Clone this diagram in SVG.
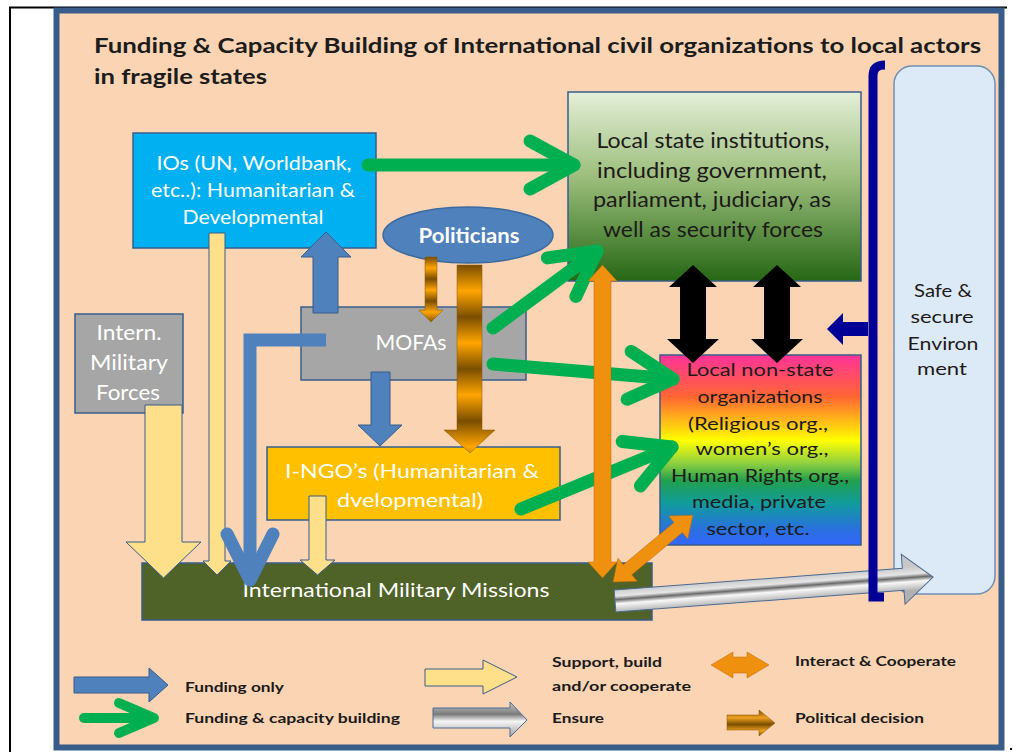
<svg xmlns="http://www.w3.org/2000/svg" width="1013" height="752" viewBox="0 0 1013 752">
  <style>
    .t { font-family: Lato, "Open Sans", "Liberation Sans", sans-serif; }
    .title { font-size: 21px; font-weight: 700; fill: #1c1c1c; }
    .wt { fill: #ffffff; text-anchor: middle; }
    .dk { fill: #1e1a1a; text-anchor: middle; }
    .leg { font-size: 14px; font-weight: 700; fill: #1a1a1a; }
    .box { stroke: #385D8A; stroke-width: 1.5; }
    .blue { fill: #4F81BD; stroke: #385D8A; stroke-width: 1; }
    .yel { fill: #FFE08A; stroke: #385D8A; stroke-width: 1; }
    .org { fill: #F0900F; stroke: #C06A00; stroke-width: 0.5; }
    .grn { fill: none; stroke: #00B050; stroke-width: 13; stroke-linecap: round; stroke-linejoin: round; }
  </style>
  <defs>
    <linearGradient id="gLocal" x1="0" y1="0" x2="0" y2="1">
      <stop offset="0" stop-color="#E5EFD8"/>
      <stop offset="0.45" stop-color="#9CBE7C"/>
      <stop offset="1" stop-color="#256714"/>
    </linearGradient>
    <linearGradient id="gRainbow" x1="0" y1="0" x2="0" y2="1">
      <stop offset="0" stop-color="#FF3399"/>
      <stop offset="0.22" stop-color="#FF6633"/>
      <stop offset="0.45" stop-color="#FFFF00"/>
      <stop offset="0.57" stop-color="#8FD040"/>
      <stop offset="0.66" stop-color="#22A04C"/>
      <stop offset="0.78" stop-color="#109C9C"/>
      <stop offset="0.92" stop-color="#2A70E0"/>
      <stop offset="1" stop-color="#3366FF"/>
    </linearGradient>
    <linearGradient id="gMetal" gradientUnits="userSpaceOnUse" x1="0" y1="-12" x2="0" y2="12">
      <stop offset="0" stop-color="#C8C8C8"/>
      <stop offset="0.3" stop-color="#E6E6E6"/>
      <stop offset="0.45" stop-color="#6A6A6A"/>
      <stop offset="0.62" stop-color="#F8F8F8"/>
      <stop offset="1" stop-color="#B0B0B0"/>
    </linearGradient>
    <linearGradient id="gMetalLeg" x1="0" y1="0" x2="0" y2="1">
      <stop offset="0" stop-color="#D0D0D0"/>
      <stop offset="0.35" stop-color="#7A7A7A"/>
      <stop offset="0.55" stop-color="#F5F5F5"/>
      <stop offset="1" stop-color="#A0A0A0"/>
    </linearGradient>
    <linearGradient id="gPolBig" gradientUnits="userSpaceOnUse" x1="0" y1="265" x2="0" y2="317" spreadMethod="repeat">
      <stop offset="0" stop-color="#7A4E00"/>
      <stop offset="0.5" stop-color="#FFA500"/>
      <stop offset="1" stop-color="#7A4E00"/>
    </linearGradient>
    <linearGradient id="gPolSmall" gradientUnits="userSpaceOnUse" x1="0" y1="257" x2="0" y2="279" spreadMethod="repeat">
      <stop offset="0" stop-color="#7A4E00"/>
      <stop offset="0.5" stop-color="#FFA500"/>
      <stop offset="1" stop-color="#7A4E00"/>
    </linearGradient>
    <linearGradient id="gPolLeg" x1="0" y1="0" x2="0" y2="1">
      <stop offset="0" stop-color="#7A4E00"/>
      <stop offset="0.3" stop-color="#F0A020"/>
      <stop offset="0.55" stop-color="#7A4E00"/>
      <stop offset="0.8" stop-color="#F0A020"/>
      <stop offset="1" stop-color="#7A4E00"/>
    </linearGradient>
    <marker id="chevGreen" markerUnits="userSpaceOnUse" orient="auto" refX="0" refY="0" markerWidth="10" markerHeight="10" style="overflow:visible">
      <path d="M-44,-24 L0,0 L-44,24" fill="none" stroke="#00B050" stroke-width="13" stroke-linecap="round" stroke-linejoin="round"/>
    </marker>
    <marker id="chevBlue" markerUnits="userSpaceOnUse" orient="auto" refX="0" refY="0" markerWidth="10" markerHeight="10" style="overflow:visible">
      <path d="M-46,-23 L0,0 L-46,23" fill="none" stroke="#4F81BD" stroke-width="13" stroke-linecap="round" stroke-linejoin="round"/>
    </marker>
  </defs>

  <!-- page -->
  <rect width="1013" height="752" fill="#ffffff"/>
  <g id="frame">
    <line x1="9" y1="7.5" x2="1007" y2="7.5" stroke="#000" stroke-width="2"/>
    <line x1="10" y1="7" x2="10" y2="752" stroke="#000" stroke-width="2"/>
    <rect x="1010" y="748" width="2" height="2" fill="#000"/>
    <rect x="56.5" y="10.5" width="945" height="737" fill="#FBD4B4" stroke="#385D8A" stroke-width="6"/>
  </g>

  <g id="title" class="t title">
    <text x="94" y="53" textLength="887" lengthAdjust="spacingAndGlyphs">Funding &amp; Capacity Building of International civil organizations to local actors</text>
    <text x="94" y="84" textLength="173" lengthAdjust="spacingAndGlyphs">in fragile states</text>
  </g>

  <!-- nodes -->
  <g id="safe-environment">
    <rect x="894" y="66" width="101" height="528" rx="18" fill="#DCE9F6" stroke="#6F8FB5" stroke-width="1.5"/>
    <g class="t dk" font-size="18">
      <text x="943" y="297" textLength="58" lengthAdjust="spacingAndGlyphs">Safe &amp;</text>
      <text x="942" y="323" textLength="63" lengthAdjust="spacingAndGlyphs">secure</text>
      <text x="943" y="350" textLength="71" lengthAdjust="spacingAndGlyphs">Environ</text>
      <text x="942" y="375" textLength="50" lengthAdjust="spacingAndGlyphs">ment</text>
    </g>
  </g>

  <g id="local-state">
    <rect x="568" y="92" width="293" height="189" fill="url(#gLocal)" class="box"/>
    <g class="t dk" font-size="21">
      <text x="713" y="148" textLength="233" lengthAdjust="spacingAndGlyphs">Local state institutions,</text>
      <text x="712" y="178" textLength="230" lengthAdjust="spacingAndGlyphs">including  government,</text>
      <text x="712" y="207" textLength="238" lengthAdjust="spacingAndGlyphs">parliament, judiciary, as</text>
      <text x="713" y="237" textLength="220" lengthAdjust="spacingAndGlyphs">well as security forces</text>
    </g>
  </g>

  <g id="local-non-state">
    <rect x="660" y="355" width="201" height="190" fill="url(#gRainbow)" class="box"/>
    <g class="t dk" font-size="17">
      <text x="760" y="376" textLength="147" lengthAdjust="spacingAndGlyphs">Local   non-state</text>
      <text x="760" y="403" textLength="125" lengthAdjust="spacingAndGlyphs">organizations</text>
      <text x="758" y="430" textLength="140" lengthAdjust="spacingAndGlyphs">(Religious org.,</text>
      <text x="762" y="455" textLength="133" lengthAdjust="spacingAndGlyphs">women’s org.,</text>
      <text x="760" y="482" textLength="178" lengthAdjust="spacingAndGlyphs">Human Rights org.,</text>
      <text x="759" y="508" textLength="134" lengthAdjust="spacingAndGlyphs">media, private</text>
      <text x="758" y="535" textLength="103" lengthAdjust="spacingAndGlyphs">sector, etc.</text>
    </g>
  </g>

  <g id="ios">
    <rect x="133" y="133" width="243" height="115" fill="#00B0F0" class="box"/>
    <g class="t wt" font-size="20">
      <text x="254" y="170" textLength="195" lengthAdjust="spacingAndGlyphs">IOs (UN, Worldbank,</text>
      <text x="253" y="197" textLength="204" lengthAdjust="spacingAndGlyphs">etc..): Humanitarian &amp;</text>
      <text x="253" y="224" textLength="141" lengthAdjust="spacingAndGlyphs">Developmental</text>
    </g>
  </g>

  <g id="intern-military-forces">
    <rect x="75" y="314" width="108" height="99" fill="#A6A6A6" class="box"/>
    <g class="t wt" font-size="21" fill="#F4F4F4">
      <text x="129" y="340" textLength="65" lengthAdjust="spacingAndGlyphs">Intern.</text>
      <text x="129" y="370" textLength="78" lengthAdjust="spacingAndGlyphs">Military</text>
      <text x="128" y="400" textLength="64" lengthAdjust="spacingAndGlyphs">Forces</text>
    </g>
  </g>

  <g id="mofas">
    <rect x="301" y="307" width="225" height="73" fill="#A6A6A6" class="box"/>
    <text x="411" y="350" class="t wt" font-size="21" textLength="71" lengthAdjust="spacingAndGlyphs">MOFAs</text>
  </g>

  <g id="politicians">
    <ellipse cx="468" cy="235" rx="85" ry="28" fill="#4F81BD" stroke="#3A6AA0" stroke-width="1.5"/>
    <text x="469" y="243" class="t wt" font-size="20" font-weight="700" textLength="101" lengthAdjust="spacingAndGlyphs">Politicians</text>
  </g>

  <g id="i-ngos">
    <rect x="267" y="447" width="293" height="73" fill="#FFC000" class="box"/>
    <g class="t wt" font-size="20">
      <text x="412" y="478" textLength="254" lengthAdjust="spacingAndGlyphs">I-NGO’s (Humanitarian &amp;</text>
      <text x="410" y="507" textLength="146" lengthAdjust="spacingAndGlyphs">dvelopmental)</text>
    </g>
  </g>

  <g id="intern-military-missions">
    <rect x="142" y="563" width="510" height="57" fill="#4F6228" class="box"/>
    <text x="396" y="597" class="t wt" font-size="20" fill="#F2F2E6" textLength="307" lengthAdjust="spacingAndGlyphs">International Military Missions</text>
  </g>

  <!-- connectors -->
  <g id="connectors">
    <!-- support / build -->
    <polygon class="yel" points="145,405 182,405 182,542 201,542 163.5,578 126,542 145,542"/>
    <polygon class="yel" points="209,233 225,233 225,561 231,561 217,575 203,561 209,561"/>
    <polygon class="yel" points="309,496 326,496 326,560 335,560 317.5,575 300,560 309,560"/>

    <!-- funding only -->
    <polygon class="blue" points="313,313 313,257 301,257 326,232 351,257 338,257 338,313"/>
    <polygon class="blue" points="371,372 390,372 390,425 402,425 380,446 358,425 371,425"/>
    <path d="M326,340 L250,340 L250,580" fill="none" stroke="#4F81BD" stroke-width="13" stroke-linejoin="miter" marker-end="url(#chevBlue)"/>

    <!-- political decision -->
    <polygon points="425,257 437,257 437,310 443,310 431,322 419,310 425,310" fill="url(#gPolSmall)" stroke="#8A5A00" stroke-width="0.5"/>
    <polygon points="457,265 482,265 482,430 495,430 470,453 444,430 457,430" fill="url(#gPolBig)" stroke="#8A5A00" stroke-width="0.5"/>

    <!-- funding & capacity building -->
    <path class="grn" d="M368,165 L574,165" marker-end="url(#chevGreen)"/>
    <path class="grn" d="M493,328 L597,251" marker-end="url(#chevGreen)"/>
    <path class="grn" d="M493,364 L673,379" marker-end="url(#chevGreen)"/>
    <path class="grn" d="M521,509 L672,447" marker-end="url(#chevGreen)"/>

    <!-- interact & cooperate -->
    <polygon class="org" points="602.5,265 617,281 611,281 611,562 617,562 602.5,578 588,562 594,562 594,281 588,281"/>
    <polygon class="org" transform="translate(613,582) rotate(-39.9)" points="0,0 19,-15 19,-6.5 85,-6.5 85,-15 104,0 85,15 85,6.5 19,6.5 19,15"/>

    <!-- state / non-state interaction -->
    <polygon fill="#000" points="693,265 717,287 706,287 706,339 719,339 693,363 667,339 680,339 680,287 669,287"/>
    <polygon fill="#000" points="777,265 801,287 790,287 790,339 803,339 777,363 751,339 764,339 764,287 753,287"/>

    <!-- ensure -->
    <polygon transform="translate(615,601) rotate(-4.3)" points="0,-11 289,-11 289,-25 319,0 289,25 289,11 0,11" fill="url(#gMetal)" stroke="#4A6A95" stroke-width="1"/>

    <!-- safe environment bracket -->
    <path d="M885,65 C877,65 873,68 873,76 L873,597 L884,597" fill="none" stroke="#000096" stroke-width="9"/>
    <polygon fill="#000096" points="868,322 843,322 843,313 827,329 843,345 843,336 868,336"/>
  </g>

  <!-- legend -->
  <g id="legend">
    <polygon class="blue" points="74,677 149,677 149,668 168,685 149,702 149,693 74,693"/>
    <path d="M84,718 L152,718 M119,703 L154,718 L119,733" fill="none" stroke="#00B050" stroke-width="10" stroke-linecap="round" stroke-linejoin="round"/>
    <polygon class="yel" points="425,669 483,669 483,660 517,677 483,694 483,686 425,686"/>
    <polygon points="433,708 510,708 510,702 527,720 510,737 510,728 433,728" fill="url(#gMetalLeg)" stroke="#4A6A95" stroke-width="1"/>
    <polygon class="org" points="711,665 733,652 733,657 747,657 747,652 769,665 747,678 747,673 733,673 733,678"/>
    <polygon points="727,715 759,715 759,710 775,723 759,736 759,730 727,730" fill="url(#gPolLeg)" stroke="#8A5A00" stroke-width="0.5"/>
    <g class="t leg">
      <text x="185" y="692" textLength="99" lengthAdjust="spacingAndGlyphs">Funding only</text>
      <text x="185" y="723" textLength="215" lengthAdjust="spacingAndGlyphs">Funding &amp; capacity building</text>
      <text x="552" y="667" textLength="110" lengthAdjust="spacingAndGlyphs">Support, build</text>
      <text x="552" y="691" textLength="139" lengthAdjust="spacingAndGlyphs">and/or cooperate</text>
      <text x="552" y="723" textLength="52" lengthAdjust="spacingAndGlyphs">Ensure</text>
      <text x="795" y="666" textLength="161" lengthAdjust="spacingAndGlyphs">Interact &amp; Cooperate</text>
      <text x="795" y="723" textLength="129" lengthAdjust="spacingAndGlyphs">Political decision</text>
    </g>
  </g>
</svg>
